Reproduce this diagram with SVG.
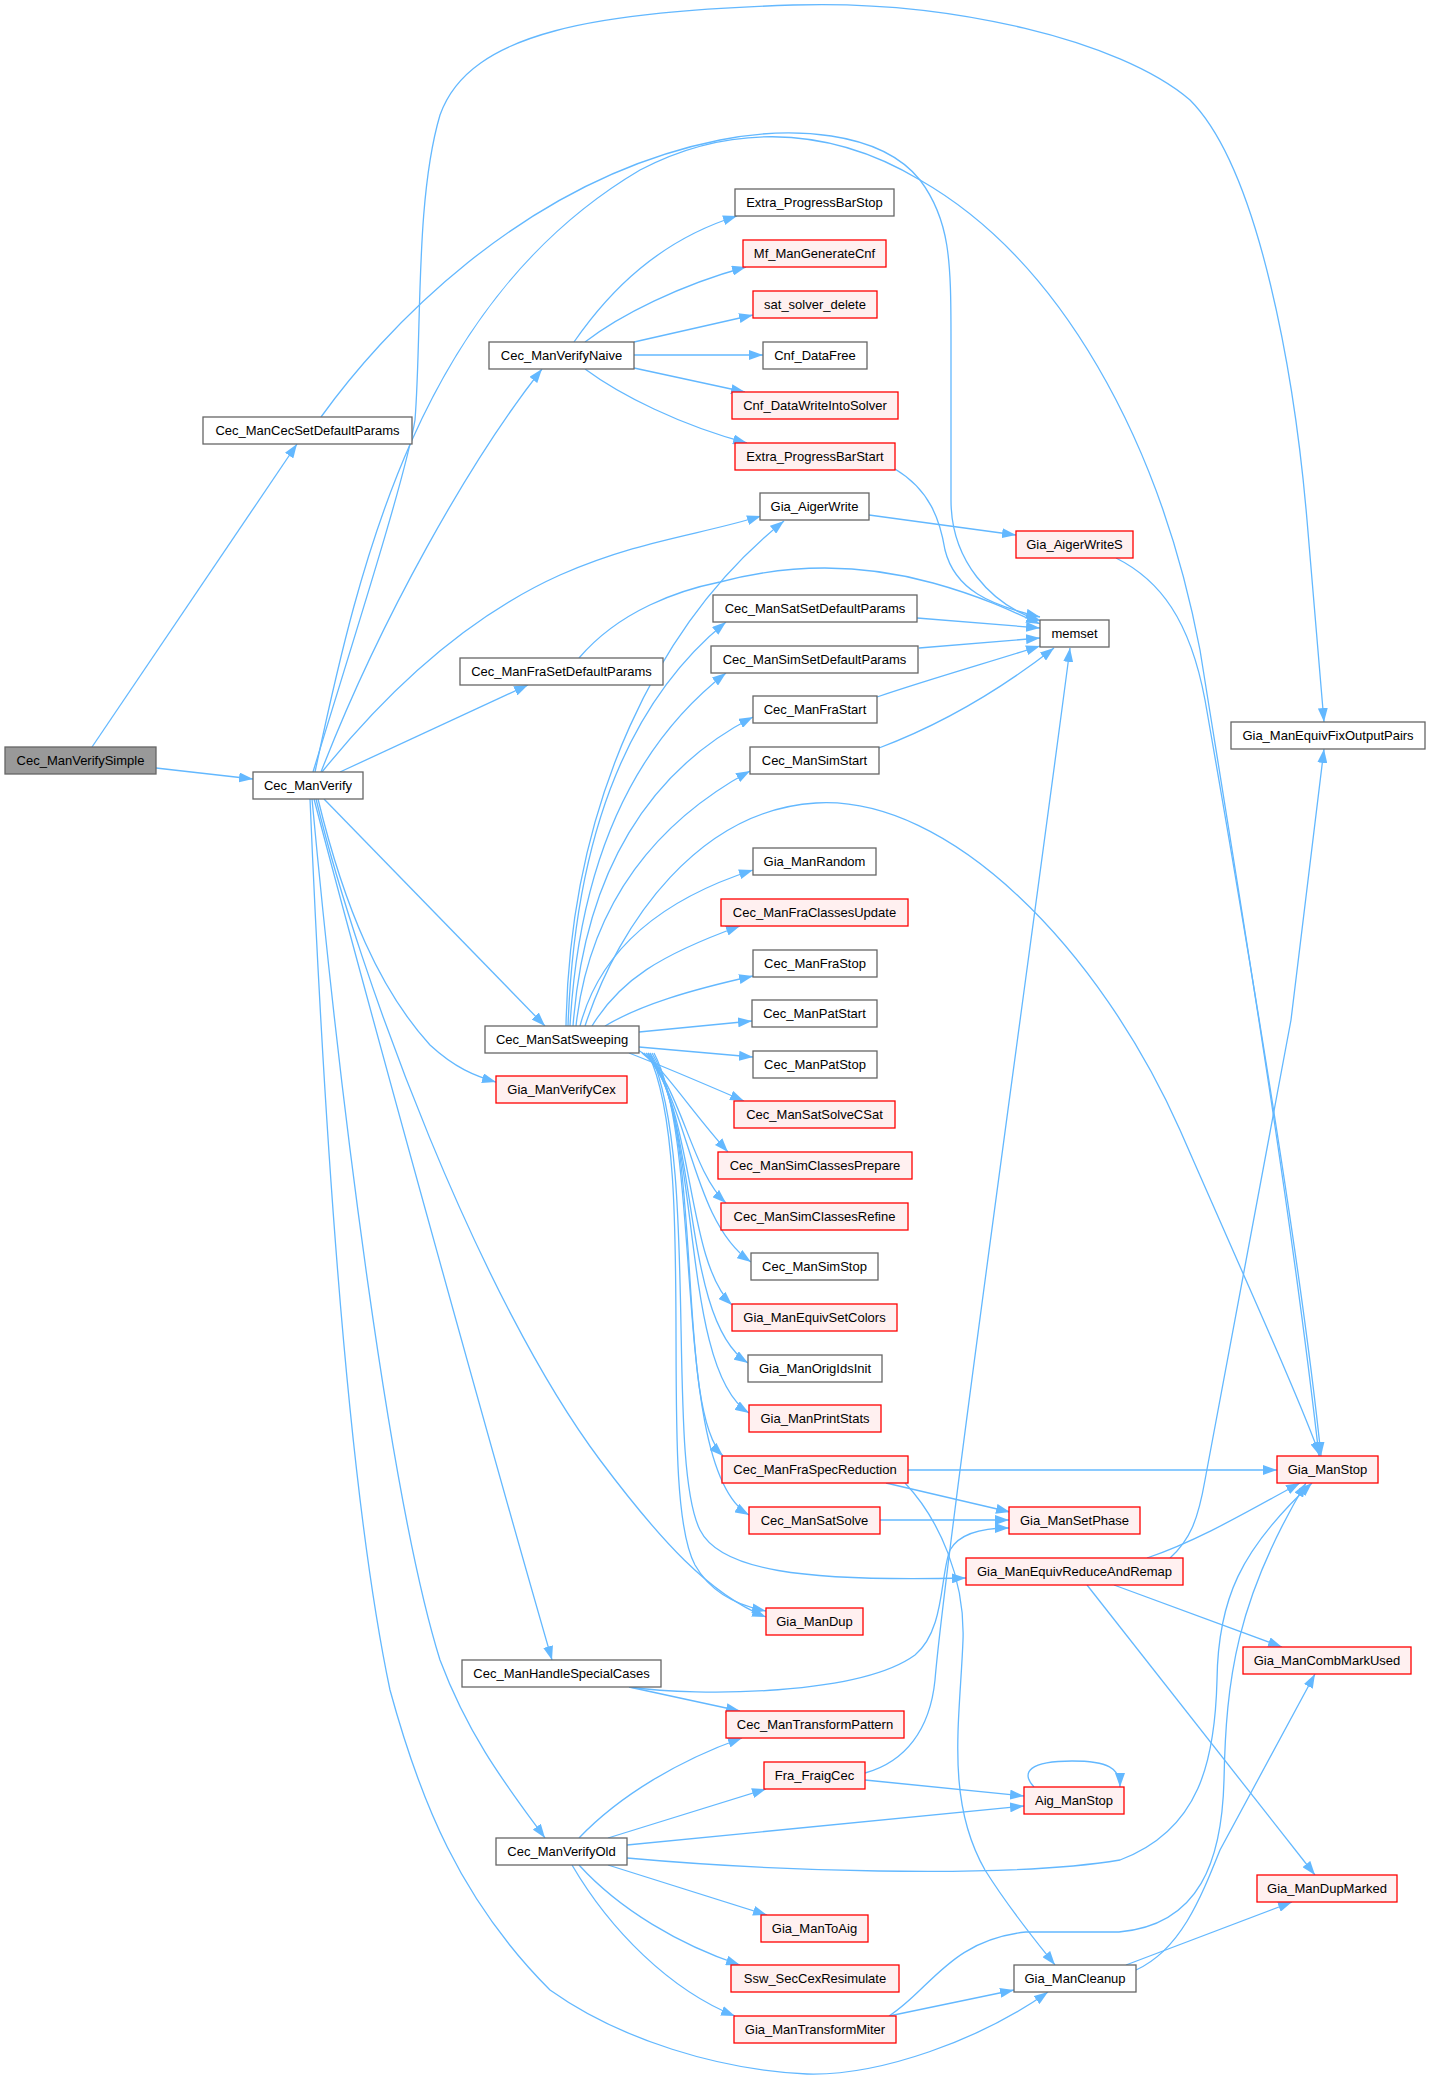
<svg xmlns="http://www.w3.org/2000/svg" width="1430" height="2076" viewBox="0 0 1430 2076">
<style>
.n rect{fill:#ffffff;stroke:#666666;stroke-width:1.3}
.r rect{fill:#fff0f0;stroke:#ff0000;stroke-width:1.3}
.root rect{fill:#999999;stroke:#666666;stroke-width:1.3}
text{font-family:"Liberation Sans",Arial,sans-serif;font-size:13px;text-anchor:middle;fill:#000000}
#edges path{fill:none;stroke:#63b8ff;stroke-width:1.3;marker-end:url(#ah)}
</style>
<defs>
<marker id="ah" markerUnits="userSpaceOnUse" markerWidth="14" markerHeight="10" refX="14" refY="5" orient="auto">
<path d="M0,0 L14,5 L0,10 z" fill="#63b8ff"/>
</marker>
</defs>
<rect width="1430" height="2076" fill="#ffffff"/>
<g id="edges">
<path d="M92,747 L297,444"/>
<path d="M156,768 L253,779"/>
<path d="M321,417 C380,335 520,180 720,140 C790,126 880,130 920,180 C950,220 951,260 951,340 L951,500 C951,560 990,605 1041,621"/>
<path d="M315,772 C360,560 420,300 640,170 C720,128 820,120 920,180 C1060,260 1160,440 1200,650 C1240,900 1290,1200 1319,1456"/>
<path d="M313,772 C350,650 405,480 415,420 C422,330 415,200 440,115 C470,30 600,12 793,5 C950,0 1120,40 1190,100 C1260,170 1295,380 1307,520 L1324,722"/>
<path d="M321,772 C380,620 470,460 542,369"/>
<path d="M322,772 C380,700 460,620 560,575 C640,540 700,535 761,516"/>
<path d="M340,772 L528,685"/>
<path d="M324,799 L545,1026"/>
<path d="M318,799 C345,910 380,990 430,1045 C455,1068 475,1076 496,1082"/>
<path d="M316,799 C360,980 480,1300 600,1460 C660,1540 710,1595 766,1617"/>
<path d="M314,799 C380,1050 500,1480 552,1660"/>
<path d="M312,799 C340,1100 390,1500 440,1660 C470,1740 510,1790 545,1838"/>
<path d="M310,799 C325,1150 350,1500 390,1690 C420,1800 460,1900 550,1990 C620,2040 720,2070 807,2074 C880,2076 980,2040 1048,1992"/>
<path d="M574,342 C610,290 660,240 737,216"/>
<path d="M585,342 C620,315 680,285 746,267"/>
<path d="M634,342 L753,315"/>
<path d="M634,355 L763,355"/>
<path d="M634,368 L745,392"/>
<path d="M585,369 C620,395 680,425 747,443"/>
<path d="M895,469 C930,490 940,520 945,550 C955,590 990,605 1040,617"/>
<path d="M579,658 C620,610 680,590 720,582 C780,566 850,560 933,583 C980,596 1010,610 1040,624"/>
<path d="M917,618 L1040,628"/>
<path d="M919,648 L1040,638"/>
<path d="M877,697 C930,679 990,662 1040,646"/>
<path d="M879,748 C940,725 1000,690 1054,648"/>
<path d="M865,1773 C905,1762 930,1730 935,1680 C945,1560 1040,880 1070,648"/>
<path d="M869,515 L1016,535"/>
<path d="M1116,558 C1160,580 1190,620 1205,700 C1240,900 1300,1250 1321,1456"/>
<path d="M566,1026 C570,800 660,620 784,521"/>
<path d="M568,1026 C575,830 630,700 726,622"/>
<path d="M570,1026 C580,850 640,740 726,673"/>
<path d="M573,1026 C585,870 650,770 753,717"/>
<path d="M576,1026 C590,900 660,820 750,771"/>
<path d="M585,1026 C620,920 700,810 816,803 C950,795 1100,950 1180,1130 C1250,1290 1300,1400 1320,1456"/>
<path d="M580,1026 C600,950 660,900 753,870"/>
<path d="M592,1026 C620,980 660,955 740,926"/>
<path d="M605,1026 C640,1005 690,990 753,976"/>
<path d="M639,1032 L752,1021"/>
<path d="M639,1047 L753,1057"/>
<path d="M629,1053 C660,1065 700,1082 744,1101"/>
<path d="M638,1050 C660,1062 690,1110 728,1152"/>
<path d="M642,1053 C680,1080 690,1170 726,1203"/>
<path d="M644,1053 C690,1100 690,1220 751,1262"/>
<path d="M646,1053 C695,1110 685,1260 732,1305"/>
<path d="M648,1053 C700,1120 680,1320 748,1363"/>
<path d="M650,1053 C702,1130 680,1370 749,1413"/>
<path d="M652,1053 C705,1140 675,1410 723,1456"/>
<path d="M654,1053 C705,1150 670,1470 749,1515"/>
<path d="M650,1053 C700,1160 665,1460 700,1530 C720,1570 800,1582 966,1578"/>
<path d="M648,1053 C700,1160 655,1490 695,1565 C712,1595 740,1606 766,1611"/>
<path d="M908,1470 L1277,1470"/>
<path d="M886,1483 L1010,1512"/>
<path d="M905,1483 C940,1520 965,1580 963,1640 C960,1720 945,1800 985,1870 C1010,1910 1035,1940 1055,1965"/>
<path d="M880,1520 L1009,1520"/>
<path d="M629,1687 C700,1697 860,1695 915,1655 C945,1630 940,1575 950,1550 C960,1532 985,1528 1009,1528"/>
<path d="M629,1687 L740,1711"/>
<path d="M579,1838 C620,1795 680,1760 742,1738"/>
<path d="M608,1838 L766,1789"/>
<path d="M627,1845 L1024,1806"/>
<path d="M627,1858 C760,1870 1000,1880 1120,1860 C1200,1830 1215,1760 1217,1680 C1218,1600 1240,1550 1312,1483"/>
<path d="M608,1865 L767,1915"/>
<path d="M579,1865 C620,1910 680,1945 740,1965"/>
<path d="M572,1865 C610,1930 670,1990 735,2016"/>
<path d="M865,1780 L1024,1796"/>
<path d="M1034,1787 C1020,1772 1030,1761 1072,1761 C1108,1761 1120,1768 1120,1787"/>
<path d="M889,2016 L1014,1990"/>
<path d="M889,2016 C930,1990 950,1940 1026,1932 L1119,1932 C1200,1925 1222,1860 1224,1780 C1226,1680 1236,1600 1306,1483"/>
<path d="M1136,1970 C1180,1950 1200,1900 1220,1850 L1315,1674"/>
<path d="M1126,1965 L1292,1902"/>
<path d="M1087,1585 L1315,1875"/>
<path d="M1114,1585 L1282,1647"/>
<path d="M1147,1558 C1200,1540 1250,1510 1300,1483"/>
<path d="M1170,1558 C1190,1540 1198,1520 1205,1480 L1291,1020 C1305,900 1318,800 1324,749"/>
</g>
<g id="Cec_ManVerifySimple" class="root"><rect x="5" y="747" width="151" height="27"/><text x="80.5" y="765">Cec_ManVerifySimple</text></g>
<g id="Cec_ManVerify" class="n"><rect x="253" y="772" width="110" height="27"/><text x="308" y="790">Cec_ManVerify</text></g>
<g id="Cec_ManCecSetDefaultParams" class="n"><rect x="203" y="417" width="209" height="27"/><text x="307.5" y="435">Cec_ManCecSetDefaultParams</text></g>
<g id="Cec_ManVerifyNaive" class="n"><rect x="489" y="342" width="145" height="27"/><text x="561.5" y="360">Cec_ManVerifyNaive</text></g>
<g id="Cec_ManFraSetDefaultParams" class="n"><rect x="460" y="658" width="203" height="27"/><text x="561.5" y="676">Cec_ManFraSetDefaultParams</text></g>
<g id="Cec_ManSatSweeping" class="n"><rect x="485" y="1026" width="154" height="27"/><text x="562" y="1044">Cec_ManSatSweeping</text></g>
<g id="Gia_ManVerifyCex" class="r"><rect x="496" y="1076" width="131" height="27"/><text x="561.5" y="1094">Gia_ManVerifyCex</text></g>
<g id="Cec_ManHandleSpecialCases" class="n"><rect x="462" y="1660" width="199" height="27"/><text x="561.5" y="1678">Cec_ManHandleSpecialCases</text></g>
<g id="Cec_ManVerifyOld" class="n"><rect x="496" y="1838" width="131" height="27"/><text x="561.5" y="1856">Cec_ManVerifyOld</text></g>
<g id="Extra_ProgressBarStop" class="n"><rect x="735" y="189" width="159" height="27"/><text x="814.5" y="207">Extra_ProgressBarStop</text></g>
<g id="Mf_ManGenerateCnf" class="r"><rect x="743" y="240" width="143" height="27"/><text x="814.5" y="258">Mf_ManGenerateCnf</text></g>
<g id="sat_solver_delete" class="r"><rect x="753" y="291" width="124" height="27"/><text x="815" y="309">sat_solver_delete</text></g>
<g id="Cnf_DataFree" class="n"><rect x="763" y="342" width="104" height="27"/><text x="815" y="360">Cnf_DataFree</text></g>
<g id="Cnf_DataWriteIntoSolver" class="r"><rect x="732" y="392" width="166" height="27"/><text x="815" y="410">Cnf_DataWriteIntoSolver</text></g>
<g id="Extra_ProgressBarStart" class="r"><rect x="735" y="443" width="160" height="27"/><text x="815" y="461">Extra_ProgressBarStart</text></g>
<g id="Gia_AigerWrite" class="n"><rect x="760" y="493" width="109" height="27"/><text x="814.5" y="511">Gia_AigerWrite</text></g>
<g id="Cec_ManSatSetDefaultParams" class="n"><rect x="713" y="595" width="204" height="27"/><text x="815" y="613">Cec_ManSatSetDefaultParams</text></g>
<g id="Cec_ManSimSetDefaultParams" class="n"><rect x="711" y="646" width="207" height="27"/><text x="814.5" y="664">Cec_ManSimSetDefaultParams</text></g>
<g id="Cec_ManFraStart" class="n"><rect x="753" y="696" width="124" height="27"/><text x="815" y="714">Cec_ManFraStart</text></g>
<g id="Cec_ManSimStart" class="n"><rect x="750" y="747" width="129" height="27"/><text x="814.5" y="765">Cec_ManSimStart</text></g>
<g id="Gia_ManRandom" class="n"><rect x="753" y="848" width="123" height="27"/><text x="814.5" y="866">Gia_ManRandom</text></g>
<g id="Cec_ManFraClassesUpdate" class="r"><rect x="721" y="899" width="187" height="27"/><text x="814.5" y="917">Cec_ManFraClassesUpdate</text></g>
<g id="Cec_ManFraStop" class="n"><rect x="753" y="950" width="124" height="27"/><text x="815" y="968">Cec_ManFraStop</text></g>
<g id="Cec_ManPatStart" class="n"><rect x="752" y="1000" width="125" height="27"/><text x="814.5" y="1018">Cec_ManPatStart</text></g>
<g id="Cec_ManPatStop" class="n"><rect x="753" y="1051" width="124" height="27"/><text x="815" y="1069">Cec_ManPatStop</text></g>
<g id="Cec_ManSatSolveCSat" class="r"><rect x="734" y="1101" width="161" height="27"/><text x="814.5" y="1119">Cec_ManSatSolveCSat</text></g>
<g id="Cec_ManSimClassesPrepare" class="r"><rect x="718" y="1152" width="194" height="27"/><text x="815" y="1170">Cec_ManSimClassesPrepare</text></g>
<g id="Cec_ManSimClassesRefine" class="r"><rect x="721" y="1203" width="187" height="27"/><text x="814.5" y="1221">Cec_ManSimClassesRefine</text></g>
<g id="Cec_ManSimStop" class="n"><rect x="751" y="1253" width="127" height="27"/><text x="814.5" y="1271">Cec_ManSimStop</text></g>
<g id="Gia_ManEquivSetColors" class="r"><rect x="732" y="1304" width="165" height="27"/><text x="814.5" y="1322">Gia_ManEquivSetColors</text></g>
<g id="Gia_ManOrigIdsInit" class="n"><rect x="748" y="1355" width="134" height="27"/><text x="815" y="1373">Gia_ManOrigIdsInit</text></g>
<g id="Gia_ManPrintStats" class="r"><rect x="749" y="1405" width="132" height="27"/><text x="815" y="1423">Gia_ManPrintStats</text></g>
<g id="Cec_ManFraSpecReduction" class="r"><rect x="722" y="1456" width="186" height="27"/><text x="815" y="1474">Cec_ManFraSpecReduction</text></g>
<g id="Cec_ManSatSolve" class="r"><rect x="749" y="1507" width="131" height="27"/><text x="814.5" y="1525">Cec_ManSatSolve</text></g>
<g id="Gia_ManDup" class="r"><rect x="766" y="1608" width="97" height="27"/><text x="814.5" y="1626">Gia_ManDup</text></g>
<g id="Cec_ManTransformPattern" class="r"><rect x="726" y="1711" width="178" height="27"/><text x="815" y="1729">Cec_ManTransformPattern</text></g>
<g id="Fra_FraigCec" class="r"><rect x="764" y="1762" width="101" height="27"/><text x="814.5" y="1780">Fra_FraigCec</text></g>
<g id="Gia_ManToAig" class="r"><rect x="761" y="1915" width="107" height="27"/><text x="814.5" y="1933">Gia_ManToAig</text></g>
<g id="Ssw_SecCexResimulate" class="r"><rect x="731" y="1965" width="168" height="27"/><text x="815" y="1983">Ssw_SecCexResimulate</text></g>
<g id="Gia_ManTransformMiter" class="r"><rect x="734" y="2016" width="162" height="27"/><text x="815" y="2034">Gia_ManTransformMiter</text></g>
<g id="Gia_AigerWriteS" class="r"><rect x="1016" y="531" width="117" height="27"/><text x="1074.5" y="549">Gia_AigerWriteS</text></g>
<g id="memset" class="n"><rect x="1040" y="620" width="69" height="27"/><text x="1074.5" y="638">memset</text></g>
<g id="Gia_ManSetPhase" class="r"><rect x="1009" y="1507" width="131" height="27"/><text x="1074.5" y="1525">Gia_ManSetPhase</text></g>
<g id="Gia_ManEquivReduceAndRemap" class="r"><rect x="966" y="1558" width="217" height="27"/><text x="1074.5" y="1576">Gia_ManEquivReduceAndRemap</text></g>
<g id="Aig_ManStop" class="r"><rect x="1024" y="1787" width="100" height="27"/><text x="1074" y="1805">Aig_ManStop</text></g>
<g id="Gia_ManCleanup" class="n"><rect x="1014" y="1965" width="122" height="27"/><text x="1075" y="1983">Gia_ManCleanup</text></g>
<g id="Gia_ManEquivFixOutputPairs" class="n"><rect x="1231" y="722" width="194" height="27"/><text x="1328" y="740">Gia_ManEquivFixOutputPairs</text></g>
<g id="Gia_ManStop" class="r"><rect x="1277" y="1456" width="101" height="27"/><text x="1327.5" y="1474">Gia_ManStop</text></g>
<g id="Gia_ManCombMarkUsed" class="r"><rect x="1243" y="1647" width="168" height="27"/><text x="1327" y="1665">Gia_ManCombMarkUsed</text></g>
<g id="Gia_ManDupMarked" class="r"><rect x="1257" y="1875" width="140" height="27"/><text x="1327" y="1893">Gia_ManDupMarked</text></g>
</svg>
